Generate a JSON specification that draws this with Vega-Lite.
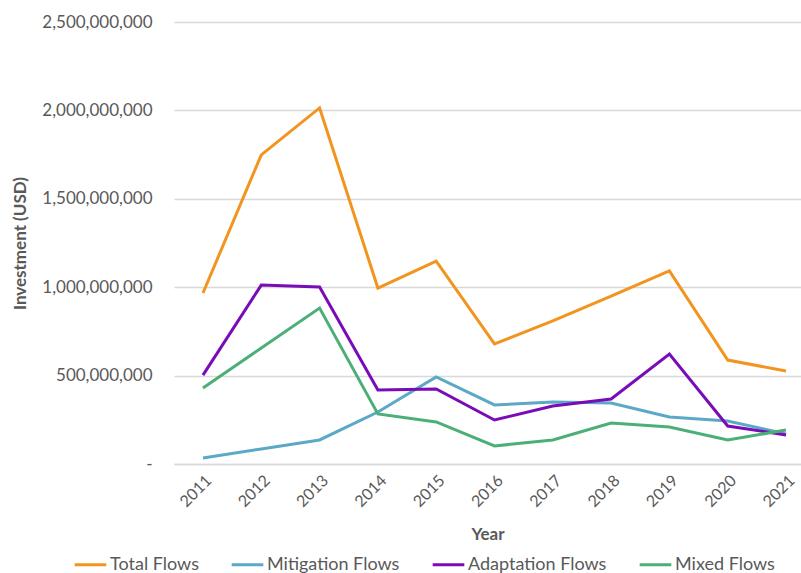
{
  "$schema": "https://vega.github.io/schema/vega-lite/v6.json",
  "width": 627,
  "height": 442,
  "autosize": {"type": "none"},
  "padding": {"left": 174, "top": 22, "right": 0, "bottom": 109},
  "config": {
    "font": "Lato",
    "view": {"stroke": null},
    "axis": {"labelFont": "Lato", "titleFont": "Lato", "labelColor": "#595959", "titleColor": "#595959"}
  },
  "data": {
    "values": [
      {"Year": 2011, "Series": "Total Flows", "Value": 967000000},
      {"Year": 2012, "Series": "Total Flows", "Value": 1748000000},
      {"Year": 2013, "Series": "Total Flows", "Value": 2014000000},
      {"Year": 2014, "Series": "Total Flows", "Value": 995000000},
      {"Year": 2015, "Series": "Total Flows", "Value": 1148000000},
      {"Year": 2016, "Series": "Total Flows", "Value": 679000000},
      {"Year": 2017, "Series": "Total Flows", "Value": 809000000},
      {"Year": 2018, "Series": "Total Flows", "Value": 950000000},
      {"Year": 2019, "Series": "Total Flows", "Value": 1092000000},
      {"Year": 2020, "Series": "Total Flows", "Value": 588000000},
      {"Year": 2021, "Series": "Total Flows", "Value": 526000000},
      {"Year": 2011, "Series": "Mitigation Flows", "Value": 34000000},
      {"Year": 2012, "Series": "Mitigation Flows", "Value": 85000000},
      {"Year": 2013, "Series": "Mitigation Flows", "Value": 136000000},
      {"Year": 2014, "Series": "Mitigation Flows", "Value": 294000000},
      {"Year": 2015, "Series": "Mitigation Flows", "Value": 492000000},
      {"Year": 2016, "Series": "Mitigation Flows", "Value": 334000000},
      {"Year": 2017, "Series": "Mitigation Flows", "Value": 350000000},
      {"Year": 2018, "Series": "Mitigation Flows", "Value": 345000000},
      {"Year": 2019, "Series": "Mitigation Flows", "Value": 266000000},
      {"Year": 2020, "Series": "Mitigation Flows", "Value": 243000000},
      {"Year": 2021, "Series": "Mitigation Flows", "Value": 170000000},
      {"Year": 2011, "Series": "Adaptation Flows", "Value": 503000000},
      {"Year": 2012, "Series": "Adaptation Flows", "Value": 1012000000},
      {"Year": 2013, "Series": "Adaptation Flows", "Value": 1001000000},
      {"Year": 2014, "Series": "Adaptation Flows", "Value": 419000000},
      {"Year": 2015, "Series": "Adaptation Flows", "Value": 424000000},
      {"Year": 2016, "Series": "Adaptation Flows", "Value": 249000000},
      {"Year": 2017, "Series": "Adaptation Flows", "Value": 328000000},
      {"Year": 2018, "Series": "Adaptation Flows", "Value": 368000000},
      {"Year": 2019, "Series": "Adaptation Flows", "Value": 622000000},
      {"Year": 2020, "Series": "Adaptation Flows", "Value": 215000000},
      {"Year": 2021, "Series": "Adaptation Flows", "Value": 164000000},
      {"Year": 2011, "Series": "Mixed Flows", "Value": 430000000},
      {"Year": 2012, "Series": "Mixed Flows", "Value": 656000000},
      {"Year": 2013, "Series": "Mixed Flows", "Value": 882000000},
      {"Year": 2014, "Series": "Mixed Flows", "Value": 283000000},
      {"Year": 2015, "Series": "Mixed Flows", "Value": 238000000},
      {"Year": 2016, "Series": "Mixed Flows", "Value": 102000000},
      {"Year": 2017, "Series": "Mixed Flows", "Value": 136000000},
      {"Year": 2018, "Series": "Mixed Flows", "Value": 232000000},
      {"Year": 2019, "Series": "Mixed Flows", "Value": 209000000},
      {"Year": 2020, "Series": "Mixed Flows", "Value": 136000000},
      {"Year": 2021, "Series": "Mixed Flows", "Value": 192000000}
    ]
  },
  "mark": {"type": "line", "strokeWidth": 3, "strokeJoin": "miter"},
  "encoding": {
    "x": {
      "field": "Year",
      "type": "quantitative",
      "scale": {"domain": [2010.503, 2021.257], "nice": false, "zero": false},
      "axis": {
        "title": "Year",
        "titleFontSize": 17,
        "titleFontWeight": "bold",
        "titlePadding": 17,
        "values": [2011, 2012, 2013, 2014, 2015, 2016, 2017, 2018, 2019, 2020, 2021],
        "format": "d",
        "labelAngle": -45,
        "labelFontSize": 16,
        "labelPadding": 8,
        "labelFlush": false,
        "labelOverlap": false,
        "ticks": false,
        "domain": true,
        "domainColor": "#d9d9d9",
        "domainWidth": 1.5,
        "grid": false
      }
    },
    "y": {
      "field": "Value",
      "type": "quantitative",
      "scale": {"domain": [0, 2500000000], "nice": false},
      "axis": {
        "title": "Investment (USD)",
        "titleFontSize": 17,
        "titleFontWeight": "bold",
        "titlePadding": 12,
        "values": [0, 500000000, 1000000000, 1500000000, 2000000000, 2500000000],
        "labelExpr": "datum.value == 0 ? '-' : format(datum.value, ',')",
        "labelFontSize": 17,
        "labelPadding": 22,
        "ticks": false,
        "domain": false,
        "grid": true,
        "gridColor": "#d9d9d9",
        "gridWidth": 1.5
      }
    },
    "color": {
      "field": "Series",
      "type": "nominal",
      "scale": {
        "domain": ["Total Flows", "Mitigation Flows", "Adaptation Flows", "Mixed Flows"],
        "range": ["#F2951F", "#5BA8C7", "#7A0CB8", "#4BAF77"]
      },
      "legend": {
        "title": null,
        "orient": "none",
        "legendX": -101,
        "legendY": 525,
        "direction": "horizontal",
        "columns": 4,
        "symbolType": "stroke",
        "symbolSize": 1000,
        "symbolStrokeWidth": 3,
        "labelFontSize": 18,
        "labelColor": "#595959",
        "labelFont": "Lato",
        "labelOffset": 2,
        "labelBaseline": "middle",
        "columnPadding": 26,
        "rowPadding": 0,
        "padding": 0
      }
    }
  }
}
